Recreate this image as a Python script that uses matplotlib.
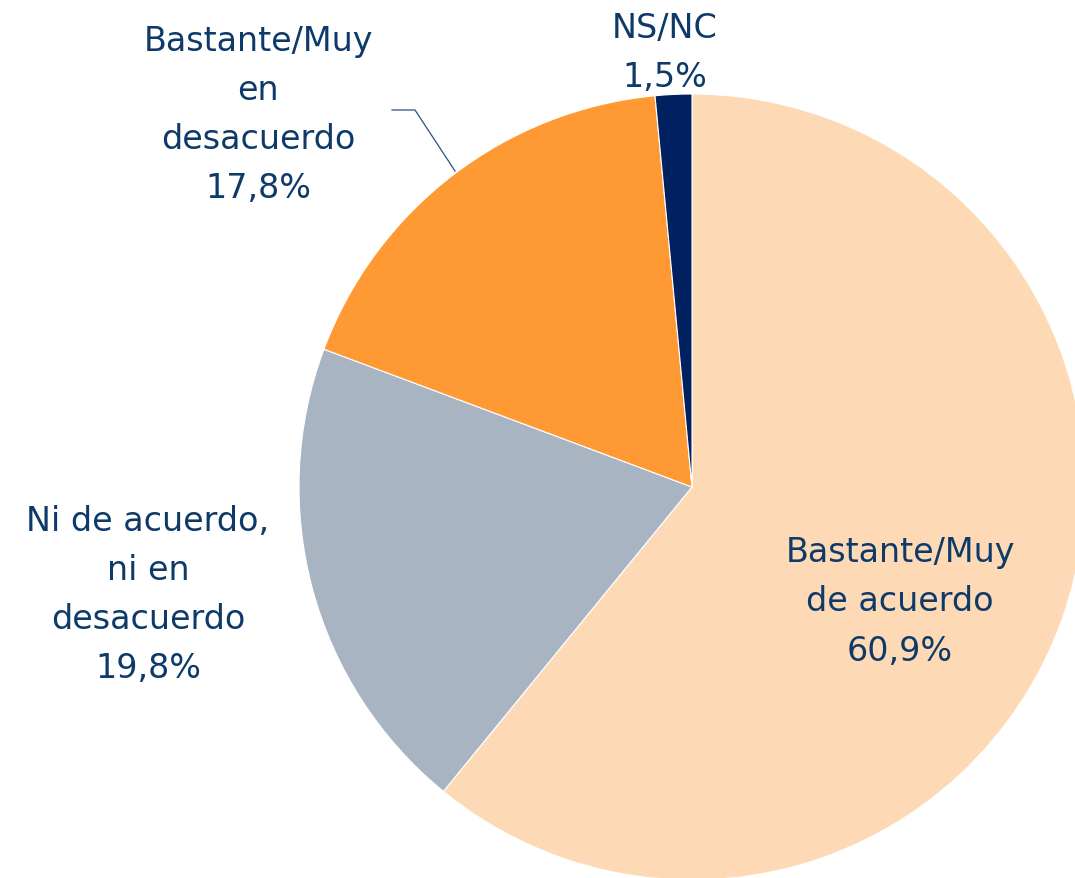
import matplotlib
matplotlib.use("Agg")
import matplotlib.pyplot as plt

# datos de la encuesta (%)
categorias = ["Bastante/Muy\nde acuerdo", "Ni de acuerdo,\nni en\ndesacuerdo",
              "Bastante/Muy\nen\ndesacuerdo", "NS/NC"]
valores = [60.9, 19.8, 17.8, 1.5]
colores = ["#FDD9B5", "#A9B4C2", "#FF9933", "#002060"]

# posiciones de las etiquetas en pixeles (x, y desde arriba)
pos_etiquetas = [(900, 602), (148, 595), (258, 115), (665, 53)]

W, H = 1075, 879
cx, cy, R = 692, 488, 393

fig = plt.figure(figsize=(W / 100, H / 100), dpi=100)
ax = fig.add_axes([0, 0, 1, 1])
ax.pie(valores, colors=colores, startangle=90, counterclock=False, radius=1,
       wedgeprops=dict(edgecolor="white", linewidth=0.8))
ax.set_xlim(-cx / R, (W - cx) / R)
ax.set_ylim(-(H - cy) / R, cy / R)
ax.set_aspect("equal")
ax.axis("off")

def px(x, y):
    return (x - cx) / R, (cy - y) / R

color_txt = "#0E3A6A"
for cat, val, (x, y) in zip(categorias, valores, pos_etiquetas):
    txt = cat + "\n" + f"{val:.1f}".replace(".", ",") + "%"
    ax.text(*px(x, y), txt, ha="center", va="center", fontsize=24,
            color=color_txt, linespacing=1.62, family="DejaVu Sans",
            fontweight="medium")

# linea guia de la etiqueta 17,8%
p0, p1, p2 = px(392, 111), px(415, 111), px(455, 172)
ax.plot([p0[0], p1[0], p2[0]], [p0[1], p1[1], p2[1]], color="#2F4F7F", lw=0.9)

fig.savefig("out.png", dpi=100)
